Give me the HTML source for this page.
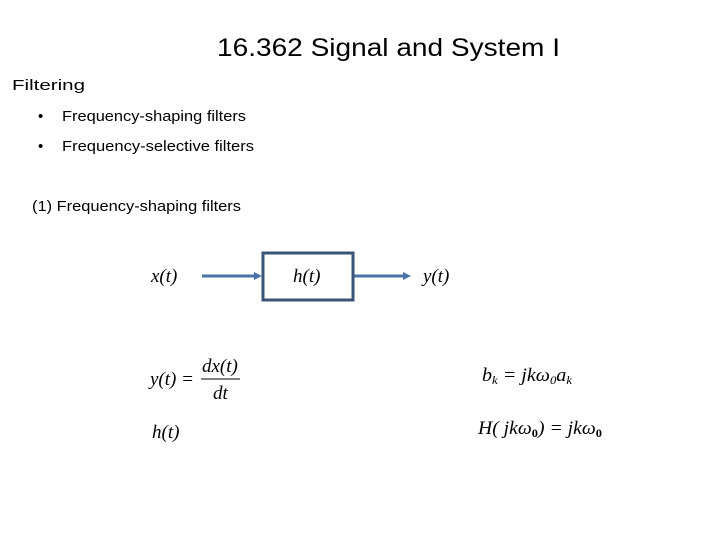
<!DOCTYPE html>
<html><head><meta charset="utf-8"><style>
body{margin:0;background:#fff;}
svg{display:block;}
</style></head><body>
<svg width="720" height="540" xmlns="http://www.w3.org/2000/svg">
<rect width="720" height="540" fill="#fff"/>
<text x="217" y="56" font-family="Liberation Sans, sans-serif" font-size="25" textLength="343" lengthAdjust="spacingAndGlyphs" fill="#000">16.362 Signal and System I</text>
<g font-family="Liberation Sans, sans-serif" font-size="15" fill="#000">
<text x="12" y="90" textLength="73" lengthAdjust="spacingAndGlyphs">Filtering</text>
<text x="38" y="121">•</text>
<text x="62" y="121" textLength="184" lengthAdjust="spacingAndGlyphs">Frequency-shaping filters</text>
<text x="38" y="151">•</text>
<text x="62" y="151" textLength="192" lengthAdjust="spacingAndGlyphs">Frequency-selective filters</text>
<text x="32" y="211" textLength="209" lengthAdjust="spacingAndGlyphs">(1) Frequency-shaping filters</text>
</g>
<g font-family="Liberation Serif, serif" font-style="italic" font-size="19" fill="#000">
<text x="151" y="282">x(t)</text>
<text x="293" y="282">h(t)</text>
<text x="423" y="282">y(t)</text>
<text x="150" y="385">y(t) =</text>
<text x="202" y="372">dx(t)</text>
<text x="213" y="399">dt</text>
<text x="152" y="438">h(t)</text>
<text x="482" y="381" textLength="90" lengthAdjust="spacingAndGlyphs">b<tspan font-size="12" dy="3">k</tspan><tspan dy="-3"> = jkω</tspan><tspan font-size="12" dy="3">0</tspan><tspan dy="-3">a</tspan><tspan font-size="12" dy="3">k</tspan></text>
<text x="478" y="434" textLength="124" lengthAdjust="spacingAndGlyphs">H( jkω<tspan font-size="12" dy="3" font-style="normal" font-weight="bold">0</tspan><tspan dy="-3">) = jkω</tspan><tspan font-size="12" dy="3" font-style="normal" font-weight="bold">0</tspan></text>
</g>
<line x1="201" y1="379" x2="240" y2="379" stroke="#000" stroke-width="1"/>
<g stroke="#4a74a8" fill="#4a74a8">
<line x1="202" y1="276" x2="256" y2="276" stroke-width="3"/>
<polygon points="262,276 254,272 254,280" stroke="none"/>
<line x1="354" y1="276" x2="404" y2="276" stroke-width="3"/>
<polygon points="411,276 403,272 403,280" stroke="none"/>
</g>
<rect x="263" y="253" width="90" height="47" fill="none" stroke="#3a5478" stroke-width="3"/>
</svg>
</body></html>
